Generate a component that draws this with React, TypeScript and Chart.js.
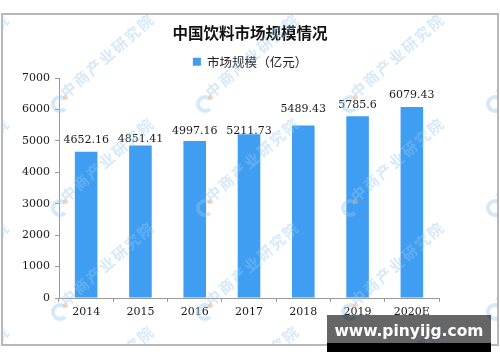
import React, { useEffect, useRef } from "react";
import { Chart, registerables } from "chart.js";

Chart.register(...registerables);

// ---- data ----
const categories = ["2014", "2015", "2016", "2017", "2018", "2019", "2020E"];
const marketSize = [4652.16, 4851.41, 4997.16, 5211.73, 5489.43, 5785.6, 6079.43];
const seriesName = "市场规模（亿元）";
const chartTitle = "中国饮料市场规模情况";
const yTickValues = [0, 1000, 2000, 3000, 4000, 5000, 6000, 7000];

// ---- label nudges (px above the bar top, as placed in the original) ----
const labelLift = [8.5, 4, 7.5, 0, 13.5, 8.5, 9];

// ---- watermark grid (layout only) ----
const wmCols = [-85, 60, 205, 350, 495];
const wmRows = [104, 208, 312, 416];

const serif = "'DejaVu Serif', 'Liberation Serif', serif";
const cjk = "'Noto Sans CJK SC', 'Noto Sans', sans-serif";

const valueLabelPlugin = {
  id: "valueLabels",
  afterDatasetsDraw(chart: any) {
    const ctx = chart.ctx;
    const meta = chart.getDatasetMeta(0);
    ctx.save();
    ctx.font = `11px ${serif}`;
    ctx.fillStyle = "#1a1a1a";
    ctx.textAlign = "center";
    ctx.textBaseline = "alphabetic";
    meta.data.forEach((bar: any, i: number) => {
      ctx.fillText(String(marketSize[i]), bar.x, bar.y - labelLift[i]);
    });
    ctx.restore();
  },
};

export default function App() {
  const ref = useRef<HTMLCanvasElement>(null);

  useEffect(() => {
    const chart = new Chart(ref.current as HTMLCanvasElement, {
      type: "bar",
      data: {
        labels: categories,
        datasets: [
          {
            label: seriesName,
            data: marketSize,
            backgroundColor: "#3f9ef2",
            borderWidth: 0,
            categoryPercentage: 1,
            barPercentage: 0.416,
          },
        ],
      },
      options: {
        responsive: false,
        animation: false,
        devicePixelRatio: 1,
        layout: { padding: { top: 13, left: 0, right: 0, bottom: 0 } },
        plugins: {
          title: {
            display: true,
            text: chartTitle,
            color: "#111",
            font: { family: cjk, size: 15.5, weight: "bold", lineHeight: 1.2 },
            padding: { top: 11, bottom: 13 },
          },
          legend: {
            display: true,
            position: "top",
            padding: 0,
            labels: {
              boxWidth: 8,
              boxHeight: 8,
              padding: 0,
              color: "#222",
              font: { family: cjk, size: 12.5 },
            },
          },
          tooltip: { enabled: false },
        },
        scales: {
          x: {
            offset: true,
            grid: {
              display: true,
              offset: true,
              drawOnChartArea: false,
              drawTicks: true,
              tickLength: 4,
              color: "#9a9a9a",
            },
            border: { display: true, color: "#9a9a9a", width: 1 },
            ticks: {
              color: "#1a1a1a",
              font: { family: serif, size: 11 },
              padding: 4,
              maxRotation: 0,
              autoSkip: false,
            },
            afterFit: (s: any) => {
              s.height = 64;
            },
          },
          y: {
            position: "left",
            min: 0,
            max: 7000,
            afterBuildTicks: (s: any) => {
              s.ticks = yTickValues.map((v) => ({ value: v }));
            },
            grid: {
              display: true,
              drawOnChartArea: false,
              drawTicks: true,
              tickLength: 4,
              color: "#9a9a9a",
            },
            border: { display: true, color: "#9a9a9a", width: 1 },
            ticks: {
              color: "#1a1a1a",
              font: { family: serif, size: 11 },
              padding: 5,
              callback: (v: any) => String(v),
            },
            afterFit: (s: any) => {
              s.width = 59;
            },
          },
          yRightSpacer: {
            type: "linear",
            position: "right",
            display: true,
            grid: { display: false, drawTicks: false },
            border: { display: false },
            ticks: { display: false },
            afterFit: (s: any) => {
              s.width = 61;
            },
          },
        },
      } as any,
      plugins: [valueLabelPlugin],
    });
    return () => chart.destroy();
  }, []);

  const clipLeft = 2;
  const clipTop = 15;

  return (
    <div
      style={{
        position: "absolute",
        left: 0,
        top: 0,
        width: 500,
        height: 362,
        background: "#fff",
        overflow: "hidden",
      }}
    >
      <div
        style={{
          position: "absolute",
          left: 1,
          top: 13,
          width: 498,
          height: 333,
          border: "2px solid #b8b8b8",
          boxSizing: "border-box",
        }}
      />
      <canvas
        ref={ref}
        width={500}
        height={362}
        style={{ position: "absolute", left: 0, top: 0, width: 500, height: 362 }}
      />
      <div
        style={{
          position: "absolute",
          left: clipLeft,
          top: clipTop,
          width: 495,
          height: 329,
          overflow: "hidden",
          pointerEvents: "none",
        }}
      >
        {wmRows.map((wy) =>
          wmCols.map((wx) => (
            <div
              key={`${wx}-${wy}`}
              style={{ position: "absolute", left: wx - clipLeft, top: wy - clipTop }}
            >
              <div
                style={{
                  position: "absolute",
                  left: -9,
                  top: -9,
                  width: 18,
                  height: 18,
                  borderRadius: "50%",
                  border: "4px solid rgba(150,200,238,0.4)",
                  borderRightColor: "transparent",
                  boxSizing: "border-box",
                }}
              />
              <div
                style={{
                  position: "absolute",
                  left: 3,
                  top: -9,
                  width: 5,
                  height: 5,
                  borderRadius: "50%",
                  background: "rgba(245,170,120,0.45)",
                }}
              />
              <span
                style={{
                  position: "absolute",
                  left: 9,
                  top: -22,
                  whiteSpace: "nowrap",
                  transformOrigin: "0% 100%",
                  transform: "rotate(-41deg)",
                  fontFamily: cjk,
                  fontWeight: "bold",
                  fontSize: 15,
                  lineHeight: "20px",
                  letterSpacing: 2,
                  color: "rgba(150,200,238,0.4)",
                }}
              >
                中商产业研究院
              </span>
            </div>
          ))
        )}
      </div>
      <div
        style={{
          position: "absolute",
          left: 327,
          top: 315,
          width: 164,
          height: 28,
          background: "rgba(0,0,0,0.6)",
          color: "#fff",
          fontFamily: "'DejaVu Sans', sans-serif",
          fontWeight: "bold",
          fontSize: 15.5,
          lineHeight: "28px",
          textAlign: "center",
          paddingTop: 2,
          boxSizing: "border-box",
        }}
      >
        www.pinyijg.com
      </div>
      <div
        style={{
          position: "absolute",
          left: 327,
          top: 343,
          width: 164,
          height: 9,
          background: "#000",
        }}
      />
    </div>
  );
}
